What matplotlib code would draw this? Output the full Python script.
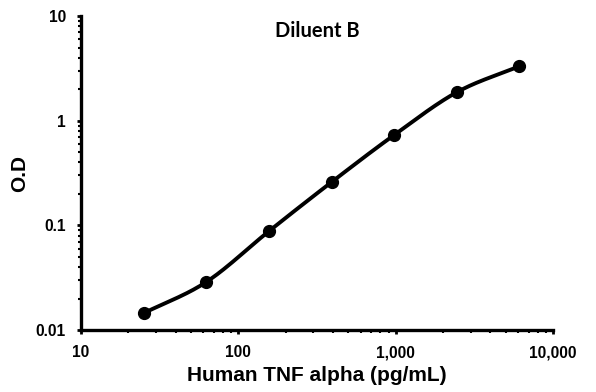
import numpy as np
import matplotlib
matplotlib.use("Agg")
import matplotlib.pyplot as plt
from matplotlib.ticker import FixedLocator, FixedFormatter, LogLocator, NullFormatter

conc = [25.0, 62.5, 156.25, 390.6, 976.6, 2441.0, 6104.0]
od = [0.0145, 0.0288, 0.088, 0.259, 0.73, 1.87, 3.32]
xticks = [10, 100, 1000, 10000]
xticklabels = ["10", "100", "1,000", "10,000"]
yticks = [0.01, 0.1, 1, 10]
yticklabels = ["0.01", "0.1", "1", "10"]

plt.rcParams['font.family'] = ['Liberation Sans', 'DejaVu Sans']

fig = plt.figure(figsize=(5.96, 3.92), dpi=100)
ax = fig.add_axes([0.136, 0.158, 0.792, 0.801])
ax.set_xscale('log')
ax.set_yscale('log')
ax.set_xlim(10, 10000)
ax.set_ylim(0.01, 10)

# smooth curve through the points (Catmull-Rom in log space)
lx = np.log10(conc)
ly = np.log10(od)
px = np.concatenate([[2*lx[0]-lx[1]], lx, [2*lx[-1]-lx[-2]]])
py = np.concatenate([[2*ly[0]-ly[1]], ly, [2*ly[-1]-ly[-2]]])
sx, sy = [], []
for i in range(1, len(px)-2):
    t = np.linspace(0, 1, 30)
    for arr, out in ((px, sx), (py, sy)):
        p0, p1, p2, p3 = arr[i-1], arr[i], arr[i+1], arr[i+2]
        out.extend(0.5*((2*p1) + (-p0+p2)*t + (2*p0-5*p1+4*p2-p3)*t**2 + (-p0+3*p1-3*p2+p3)*t**3))
ax.plot(10**np.array(sx), 10**np.array(sy), color='black', lw=2.8, solid_capstyle='round', zorder=2)
ax.plot(conc, od, 'o', color='black', ms=8.5, zorder=3)

for s in ['top', 'right']:
    ax.spines[s].set_visible(False)
for s in ['left', 'bottom']:
    ax.spines[s].set_linewidth(2.4)

ax.xaxis.set_major_locator(FixedLocator(xticks))
ax.xaxis.set_major_formatter(FixedFormatter(xticklabels))
ax.yaxis.set_major_locator(FixedLocator(yticks))
ax.yaxis.set_major_formatter(FixedFormatter(yticklabels))
ax.xaxis.set_minor_locator(LogLocator(base=10, subs=np.arange(2, 10)))
ax.yaxis.set_minor_locator(LogLocator(base=10, subs=np.arange(2, 10)))
ax.xaxis.set_minor_formatter(NullFormatter())
ax.yaxis.set_minor_formatter(NullFormatter())
ax.tick_params(which='major', length=3, width=2, direction='out', pad=8)
ax.tick_params(which='minor', length=2, width=1.5, direction='out')
for lab in ax.get_xticklabels() + ax.get_yticklabels():
    lab.set_fontweight('bold')
    lab.set_fontsize(11.2)

ax.set_xlabel("Human TNF alpha (pg/mL)", fontsize=15, fontweight='bold', labelpad=4)
ax.set_ylabel("O.D", fontsize=15, fontweight='bold', labelpad=5)
ax.text(0.5, 0.985, "Diluent B", transform=ax.transAxes, ha='center', va='top',
        fontsize=14.5, fontweight='bold', family=['Lato', 'DejaVu Sans'])

fig.savefig("out.png", dpi=100)
